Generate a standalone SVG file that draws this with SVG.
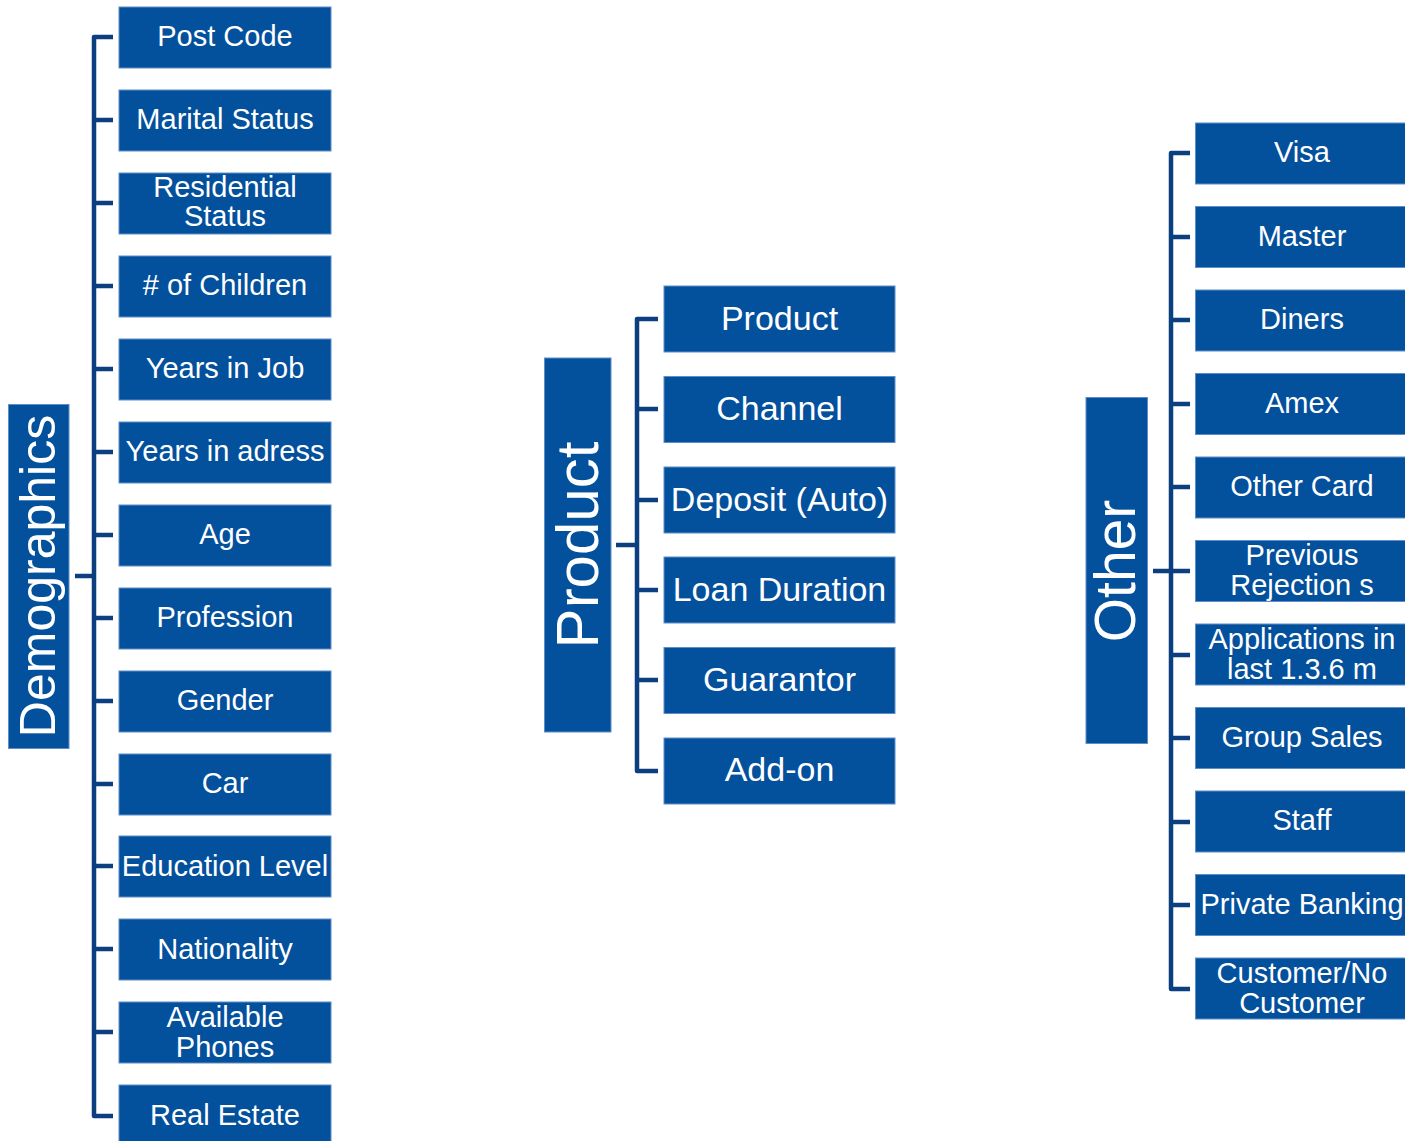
<svg xmlns="http://www.w3.org/2000/svg" width="1405" height="1141" viewBox="0 0 1405 1141">
  <style>
    .box { fill: #03509d; stroke: #5f8ec6; stroke-width: 1; }
    .lbl { fill: #ffffff; font-family: "Liberation Sans", Arial, sans-serif; font-size: 29px; text-anchor: middle; }
    .lblm { fill: #ffffff; font-family: "Liberation Sans", Arial, sans-serif; font-size: 34px; text-anchor: middle; }
    .root { fill: #ffffff; font-family: "Liberation Sans", Arial, sans-serif; text-anchor: middle; }
    .conn { fill: none; stroke: #0b3f7f; stroke-width: 4.5; stroke-linejoin: round; }
  </style>

  <!-- connectors -->
  <g id="connectors" class="conn">
    <!-- Demographics tree -->
    <path d="M113 37 H94 V1116 H113"/>
    <path d="M75 576 H94"/>
    <path d="M94 120 H113 M94 203 H113 M94 286 H113 M94 369 H113 M94 452 H113 M94 535 H113 M94 618 H113 M94 701 H113 M94 784 H113 M94 866 H113 M94 949 H113 M94 1032 H113"/>
    <!-- Product tree -->
    <path d="M658 319 H637 V771 H658"/>
    <path d="M616 545 H637"/>
    <path d="M637 409 H658 M637 500 H658 M637 590 H658 M637 680 H658"/>
    <!-- Other tree -->
    <path d="M1190 153 H1171 V989 H1190"/>
    <path d="M1153 571 H1171"/>
    <path d="M1171 237 H1190 M1171 320 H1190 M1171 404 H1190 M1171 487 H1190 M1171 571 H1190 M1171 655 H1190 M1171 738 H1190 M1171 822 H1190 M1171 905 H1190"/>
  </g>

  <!-- Demographics branch -->
  <g id="demographics">
    <rect class="box" x="8.5" y="404.5" width="60.5" height="344"/>
    <text class="root" font-size="50" transform="translate(55 576) rotate(-90)">Demographics</text>
  </g>
  <g id="post-code"><rect class="box" x="119" y="7" width="212" height="61"/><text class="lbl" x="225" y="46">Post Code</text></g>
  <g id="marital-status"><rect class="box" x="119" y="90" width="212" height="61"/><text class="lbl" x="225" y="129">Marital Status</text></g>
  <g id="residential-status"><rect class="box" x="119" y="173" width="212" height="61"/><text class="lbl" x="225" y="197">Residential</text><text class="lbl" x="225" y="226">Status</text></g>
  <g id="children"><rect class="box" x="119" y="256" width="212" height="61"/><text class="lbl" x="225" y="295"># of Children</text></g>
  <g id="years-in-job"><rect class="box" x="119" y="339" width="212" height="61"/><text class="lbl" x="225" y="378">Years in Job</text></g>
  <g id="years-in-address"><rect class="box" x="119" y="422" width="212" height="61"/><text class="lbl" x="225" y="461">Years in adress</text></g>
  <g id="age"><rect class="box" x="119" y="505" width="212" height="61"/><text class="lbl" x="225" y="544">Age</text></g>
  <g id="profession"><rect class="box" x="119" y="588" width="212" height="61"/><text class="lbl" x="225" y="627">Profession</text></g>
  <g id="gender"><rect class="box" x="119" y="671" width="212" height="61"/><text class="lbl" x="225" y="710">Gender</text></g>
  <g id="car"><rect class="box" x="119" y="754" width="212" height="61"/><text class="lbl" x="225" y="793">Car</text></g>
  <g id="education-level"><rect class="box" x="119" y="836" width="212" height="61"/><text class="lbl" x="225" y="876">Education Level</text></g>
  <g id="nationality"><rect class="box" x="119" y="919" width="212" height="61"/><text class="lbl" x="225" y="959">Nationality</text></g>
  <g id="available-phones"><rect class="box" x="119" y="1002" width="212" height="61"/><text class="lbl" x="225" y="1027">Available</text><text class="lbl" x="225" y="1057">Phones</text></g>
  <g id="real-estate"><rect class="box" x="119" y="1085" width="212" height="61"/><text class="lbl" x="225" y="1125">Real Estate</text></g>

  <!-- Product branch -->
  <g id="product-root">
    <rect class="box" x="544.5" y="358" width="66.5" height="374"/>
    <text class="root" font-size="60" transform="translate(598 545) rotate(-90)">Product</text>
  </g>
  <g id="product"><rect class="box" x="664" y="286" width="231" height="66"/><text class="lblm" x="779.5" y="330">Product</text></g>
  <g id="channel"><rect class="box" x="664" y="376.5" width="231" height="66"/><text class="lblm" x="779.5" y="420">Channel</text></g>
  <g id="deposit"><rect class="box" x="664" y="467" width="231" height="66"/><text class="lblm" x="779.5" y="511">Deposit (Auto)</text></g>
  <g id="loan-duration"><rect class="box" x="664" y="557" width="231" height="66"/><text class="lblm" x="779.5" y="601">Loan Duration</text></g>
  <g id="guarantor"><rect class="box" x="664" y="647.5" width="231" height="66"/><text class="lblm" x="779.5" y="691">Guarantor</text></g>
  <g id="add-on"><rect class="box" x="664" y="738" width="231" height="66"/><text class="lblm" x="779.5" y="781">Add-on</text></g>

  <!-- Other branch -->
  <g id="other-root">
    <rect class="box" x="1086" y="397.5" width="61.5" height="346"/>
    <text class="root" font-size="57" transform="translate(1135 571) rotate(-90)">Other</text>
  </g>
  <g id="visa"><rect class="box" x="1195.5" y="123" width="213" height="61"/><text class="lbl" x="1302" y="162">Visa</text></g>
  <g id="master"><rect class="box" x="1195.5" y="206.5" width="213" height="61"/><text class="lbl" x="1302" y="246">Master</text></g>
  <g id="diners"><rect class="box" x="1195.5" y="290" width="213" height="61"/><text class="lbl" x="1302" y="329">Diners</text></g>
  <g id="amex"><rect class="box" x="1195.5" y="373.5" width="213" height="61"/><text class="lbl" x="1302" y="413">Amex</text></g>
  <g id="other-card"><rect class="box" x="1195.5" y="457" width="213" height="61"/><text class="lbl" x="1302" y="496">Other Card</text></g>
  <g id="previous-rejections"><rect class="box" x="1195.5" y="540.5" width="213" height="61"/><text class="lbl" x="1302" y="565">Previous</text><text class="lbl" x="1302" y="595">Rejection s</text></g>
  <g id="applications"><rect class="box" x="1195.5" y="624" width="213" height="61"/><text class="lbl" x="1302" y="649">Applications in</text><text class="lbl" x="1302" y="679">last 1.3.6 m</text></g>
  <g id="group-sales"><rect class="box" x="1195.5" y="707.5" width="213" height="61"/><text class="lbl" x="1302" y="747">Group Sales</text></g>
  <g id="staff"><rect class="box" x="1195.5" y="791" width="213" height="61"/><text class="lbl" x="1302" y="830">Staff</text></g>
  <g id="private-banking"><rect class="box" x="1195.5" y="874.5" width="213" height="61"/><text class="lbl" x="1302" y="914">Private Banking</text></g>
  <g id="customer"><rect class="box" x="1195.5" y="958" width="213" height="61"/><text class="lbl" x="1302" y="983">Customer/No</text><text class="lbl" x="1302" y="1013">Customer</text></g>
</svg>
